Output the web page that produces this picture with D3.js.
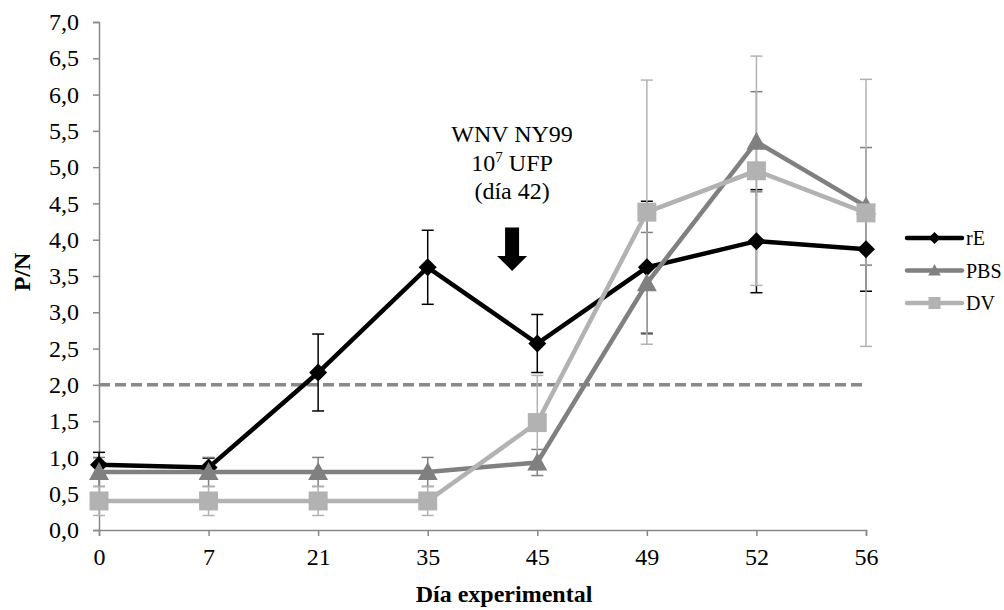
<!DOCTYPE html>
<html>
<head>
<meta charset="utf-8">
<script src="https://cdn.jsdelivr.net/npm/d3@7"></script>
<style>
  html, body { margin: 0; padding: 0; background: #fff; }
  svg { display: block; font-family: "Liberation Serif", "Times New Roman", serif; }
</style>
</head>
<body>
<svg id="chart" width="1004" height="610"></svg>
<script>
// ---- data ----
const categories = ["0", "7", "21", "35", "45", "49", "52", "56"];
const rE_values  = [0.90, 0.86, 2.17, 3.62, 2.57, 3.62, 3.98, 3.87];
const rE_errors  = [0.17, 0.13, 0.53, 0.51, 0.40, 0.91, 0.71, 0.58];
const PBS_values = [0.80, 0.80, 0.80, 0.80, 0.93, 3.40, 5.35, 4.46];
const PBS_errors = [0.20, 0.20, 0.20, 0.20, 0.18, 0.70, 0.69, 0.81];
const DV_values  = [0.40, 0.40, 0.40, 0.40, 1.48, 4.38, 4.95, 4.37];
const DV_errors  = [0.20, 0.20, 0.20, 0.20, 0.65, 1.82, 1.58, 1.84];
const yTicks = [0, 0.5, 1, 1.5, 2, 2.5, 3, 3.5, 4, 4.5, 5, 5.5, 6, 6.5, 7];
const seriesNames = ["rE", "PBS", "DV"];
const threshold = 2.0;
const annotationLines = ["WNV NY99", "10|7| UFP", "(día 42)"];
const annotationDay = 42;

const series = [
  { name: seriesNames[0], values: rE_values, errors: rE_errors, color: "#000000", symbol: "diamond" },
  { name: seriesNames[1], values: PBS_values, errors: PBS_errors, color: "#808080", symbol: "triangle" },
  { name: seriesNames[2], values: DV_values, errors: DV_errors, color: "#b2b2b2", symbol: "square" }
];

const svg = d3.select("#chart");
const x = d3.scalePoint().domain(categories).range([99, 866]).padding(0);
const y = d3.scaleLinear().domain([0, 7]).range([530, 22]);
const fmt = v => d3.format(".1f")(v).replace(".", ",");
const axisColor = "#888888";
const fs = 24;

// y axis
const yAxis = svg.append("g").attr("transform", "translate(99,0)")
  .call(d3.axisLeft(y).tickValues(yTicks).tickFormat(fmt).tickSize(6).tickPadding(14));
yAxis.select(".domain").attr("stroke", axisColor).attr("stroke-width", 1.5);
yAxis.selectAll(".tick line").attr("stroke", axisColor).attr("stroke-width", 1.5);
yAxis.selectAll(".tick text").attr("font-size", fs).attr("fill", "#000")
  .attr("font-family", "Liberation Serif");

// x axis
const xAxis = svg.append("g").attr("transform", "translate(0,530)")
  .call(d3.axisBottom(x).tickSize(6).tickPadding(12).tickSizeOuter(6));
xAxis.select(".domain").attr("stroke", axisColor).attr("stroke-width", 1.5);
xAxis.selectAll(".tick line").attr("stroke", axisColor).attr("stroke-width", 1.5);
xAxis.selectAll(".tick text").attr("font-size", fs).attr("fill", "#000")
  .attr("font-family", "Liberation Serif");

// axis titles
svg.append("text").attr("x", 504).attr("y", 602).attr("text-anchor", "middle")
  .attr("font-weight", "bold").attr("font-size", fs).text("Día experimental");
svg.append("text").attr("transform", "translate(30,272) rotate(-90)").attr("text-anchor", "middle")
  .attr("font-weight", "bold").attr("font-size", fs).text("P/N");

// threshold dashed line
svg.append("line")
  .attr("x1", x(categories[0])).attr("x2", x(categories[categories.length - 1]))
  .attr("y1", y(threshold)).attr("y2", y(threshold))
  .attr("stroke", "#888888").attr("stroke-width", 3.5).attr("stroke-dasharray", "11,5");

// error bars
const capW = 6;
series.forEach(s => {
  const g = svg.append("g");
  categories.forEach((c, i) => {
    const cx = x(c), hi = y(s.values[i] + s.errors[i]), lo = y(s.values[i] - s.errors[i]);
    g.append("line").attr("x1", cx).attr("x2", cx).attr("y1", hi).attr("y2", lo)
      .attr("stroke", s.color).attr("stroke-width", 1.5);
    g.append("line").attr("x1", cx - capW).attr("x2", cx + capW).attr("y1", hi).attr("y2", hi)
      .attr("stroke", s.color).attr("stroke-width", 1.5);
    g.append("line").attr("x1", cx - capW).attr("x2", cx + capW).attr("y1", lo).attr("y2", lo)
      .attr("stroke", s.color).attr("stroke-width", 1.5);
  });
});

function markerPath(sym, s) {
  if (sym === "diamond") return `M0,${-s}L${s},0L0,${s}L${-s},0Z`;
  if (sym === "triangle") return `M0,${-s * 1.05}L${s * 1.05},${s * 0.85}L${-s * 1.05},${s * 0.85}Z`;
  return `M${-s},${-s}L${s},${-s}L${s},${s}L${-s},${s}Z`;
}
const markerSize = { diamond: 9, triangle: 9.5, square: 9.5 };

// lines & markers
const line = d3.line().x((d, i) => x(categories[i])).y(d => y(d));
series.forEach(s => {
  svg.append("path").datum(s.values).attr("d", line)
    .attr("fill", "none").attr("stroke", s.color).attr("stroke-width", 4.5)
    .attr("stroke-linejoin", "miter");
  svg.append("g").selectAll("path").data(s.values).join("path")
    .attr("transform", (d, i) => `translate(${x(categories[i])},${y(d)})`)
    .attr("d", markerPath(s.symbol, markerSize[s.symbol]))
    .attr("fill", s.color);
});

// annotation
const ax = x("35") + (x("45") - x("35")) * (annotationDay - 35) / (45 - 35) * 1.1;
const annot = svg.append("g").attr("font-size", fs);
annotationLines.forEach((t, i) => {
  const txt = annot.append("text").attr("x", ax).attr("y", 142 + i * 28.5).attr("text-anchor", "middle");
  const parts = t.split("|");
  if (parts.length === 3) {
    txt.append("tspan").text(parts[0]);
    txt.append("tspan").attr("font-size", 15).attr("dy", -9).text(parts[1]);
    txt.append("tspan").attr("dy", 9).text(parts[2]);
  } else {
    txt.text(t);
  }
});
const arrowTop = y(4.17), arrowTip = y(3.57);
svg.append("path")
  .attr("d", `M${ax - 7},${arrowTop}L${ax + 7},${arrowTop}L${ax + 7},${arrowTip - 15}L${ax + 15},${arrowTip - 15}L${ax},${arrowTip}L${ax - 15},${arrowTip - 15}L${ax - 7},${arrowTip - 15}Z`)
  .attr("fill", "#000");

// legend
const legend = svg.append("g");
series.forEach((s, i) => {
  const ly = 238 + i * 32.5;
  legend.append("line").attr("x1", 907).attr("x2", 962).attr("y1", ly).attr("y2", ly)
    .attr("stroke", s.color).attr("stroke-width", 4.5).attr("stroke-linecap", "round");
  legend.append("path").attr("transform", `translate(934.5,${ly})`)
    .attr("d", markerPath(s.symbol, 6)).attr("fill", s.color);
  legend.append("text").attr("x", 966).attr("y", ly + 7).attr("font-size", 20).text(s.name);
});
</script>
</body>
</html>
